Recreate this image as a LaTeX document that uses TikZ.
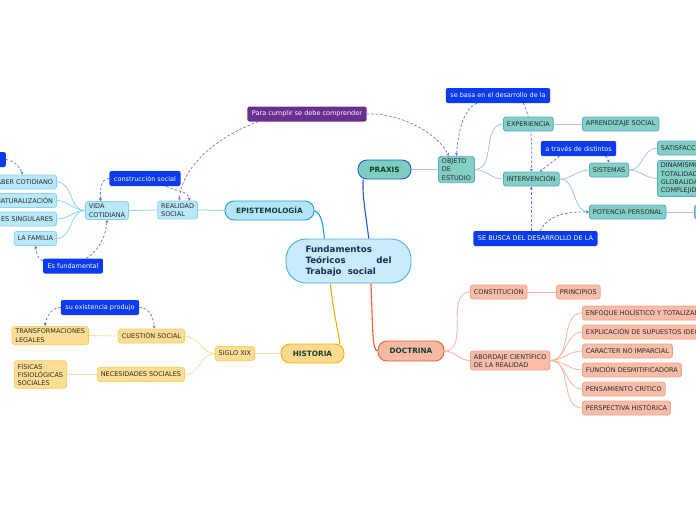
\documentclass[tikz,border=0pt]{standalone}
\usepackage{fontspec}
\setmainfont{DejaVu Sans}
\usetikzlibrary{arrows.meta,backgrounds}
\definecolor{centerfill}{HTML}{C8ECFB}\definecolor{centeredge}{HTML}{4FAEE0}
\definecolor{epifill}{HTML}{B3E5FC}\definecolor{epiedge}{HTML}{1E9FE0}
\definecolor{lbfill}{HTML}{B9E7FB}\definecolor{lbedge}{HTML}{8DD3F2}
\definecolor{praxfill}{HTML}{7ECDC1}\definecolor{praxedge}{HTML}{1F5BC9}
\definecolor{tealfill}{HTML}{82CFC4}\definecolor{tealedge}{HTML}{5FA5D9}\definecolor{tealline}{HTML}{A3C6F0}
\definecolor{histfill}{HTML}{FFD98C}\definecolor{histedge}{HTML}{F4B30C}
\definecolor{yelfill}{HTML}{FFDD93}\definecolor{yeledge}{HTML}{F9CE6C}\definecolor{yelline}{HTML}{FDDF9B}
\definecolor{docfill}{HTML}{F8B9A3}\definecolor{docedge}{HTML}{EE5C35}
\definecolor{salfill}{HTML}{F9BDA9}\definecolor{saledge}{HTML}{F6A38A}\definecolor{salline}{HTML}{F8B4A0}
\definecolor{lblblue}{HTML}{0A3BF2}\definecolor{relblue}{HTML}{4F70EE}
\definecolor{lblpurple}{HTML}{6A2D90}\definecolor{relpurple}{HTML}{9461C4}
\definecolor{maintext}{HTML}{113D2E}\definecolor{childtext}{HTML}{2A2A2A}\definecolor{centertext}{HTML}{1A2D5A}
\tikzset{
  small/.style={font=\fontsize{6.5}{8.4}\selectfont},
  child/.style={small, draw, line width=0.8pt, rounded corners=2.5pt, inner xsep=3.5pt, inner ysep=2.3pt, minimum height=14pt, align=left, text=childtext},
  bluec/.style={child, fill=lbfill, draw=lbedge},
  tealc/.style={child, fill=tealfill, draw=tealedge},
  yelc/.style={child, fill=yelfill, draw=yeledge},
  salc/.style={child, fill=salfill, draw=saledge},
  mainn/.style={font=\fontsize{7.3}{9}\selectfont\bfseries, draw, line width=0.9pt, rounded corners=9pt, minimum height=19pt, text=maintext},
  lbl/.style={small, fill=lblblue, text=white, rounded corners=2pt, inner xsep=4.5pt, minimum height=15pt},
  rel/.style={draw=relblue, line width=0.7pt, dash pattern=on 2.5pt off 2pt},
  relp/.style={draw=relpurple, line width=0.7pt, dash pattern=on 2.5pt off 2pt},
  tip/.style={-{Stealth[length=3pt,width=3pt]}},
  br/.style={line width=0.8pt}
}
\begin{document}
\begin{tikzpicture}[x=1pt,y=-1pt]
\useasboundingbox (0,0) rectangle (696,520);
\clip (0,0) rectangle (696,520);

% center and main topics
\node[draw=centeredge, fill=centerfill, line width=0.9pt, rounded corners=20pt, minimum width=125pt, minimum height=44pt, text=centertext, align=left, font=\fontsize{8.7}{11}\selectfont\bfseries] (c) at (348.5,261) {Fundamentos\\\hbox to 86pt{Teóricos\hfill del}\\Trabajo\ \ social};
\node[mainn, fill=epifill, draw=epiedge, minimum width=89pt] (epi) at (269.5,210.5) {EPISTEMOLOGÍA};
\node[mainn, fill=praxfill, draw=praxedge, minimum width=53pt] (praxis) at (384.5,169.5) {PRAXIS};
\node[mainn, fill=histfill, draw=histedge, minimum width=63pt] (historia) at (312.5,353.5) {HISTORIA};
\node[mainn, fill=docfill, draw=docedge, minimum width=66pt, minimum height=20pt] (doctrina) at (411,351) {DOCTRINA};

% epistemologia branch
\node[bluec, anchor=east] (realidad) at (198,210) {REALIDAD\\SOCIAL};
\node[bluec, anchor=east] (vida) at (129,210.5) {VIDA\\COTIDIANA};
\node[bluec, anchor=east] (saber) at (57,182) {SABER COTIDIANO};
\node[bluec, anchor=east] (natur) at (57,200.5) {NATURALIZACIÓN};
\node[bluec, anchor=east] (sing) at (57,219) {\hspace*{10pt}ES SINGULARES};
\node[bluec, anchor=east] (lafam) at (57,238.5) {LA FAMILIA};

% praxis branch
\node[tealc, anchor=west] (objeto) at (438,169.5) {OBJETO\\DE\\ESTUDIO};
\node[tealc, anchor=west] (exper) at (503,124) {EXPERIENCIA};
\node[tealc, anchor=west] (aprend) at (582,124) {APRENDIZAJE SOCIAL};
\node[tealc, anchor=west] (interv) at (503,179) {INTERVENCIÓN};
\node[tealc, anchor=west] (sist) at (589,170) {SISTEMAS};
\node[tealc, anchor=west] (poten) at (589,212) {POTENCIA PERSONAL};
\node[tealc, anchor=west] (satis) at (657,148) {SATISFACCIÓN};
\node[tealc, anchor=west] (dinam) at (657,178.5) {DINAMISMO\\TOTALIDAD\\GLOBALIDAD\\COMPLEJIDAD};
\node[tealc, anchor=west, minimum width=30pt] (pchild) at (694,212) {};

% historia branch
\node[yelc, anchor=east] (siglo) at (255,353.5) {SIGLO XIX};
\node[yelc, anchor=east] (cuest) at (185,336) {CUESTIÓN SOCIAL};
\node[yelc, anchor=east] (neces) at (185,374.5) {NECESIDADES SOCIALES};
\node[yelc, anchor=east] (transf) at (89,335.5) {TRANSFORMACIONES\\LEGALES};
\node[yelc, anchor=east] (fisicas) at (67,374.5) {FÍSICAS\\FISIOLÓGICAS\\SOCIALES};

% doctrina branch
\node[salc, anchor=west] (const) at (470,292) {CONSTITUCIÓN};
\node[salc, anchor=west] (princ) at (556,292) {PRINCIPIOS};
\node[salc, anchor=west] (abord) at (470,360.5) {ABORDAJE CIENTÍFICO\\DE LA REALIDAD};
\node[salc, anchor=west] (enf) at (582,313) {ENFOQUE HOLÍSTICO Y TOTALIZADOR};
\node[salc, anchor=west] (expl) at (582,332) {EXPLICACIÓN DE SUPUESTOS IDEOLÓGICOS};
\node[salc, anchor=west] (car) at (582,351) {CARACTER NO IMPARCIAL};
\node[salc, anchor=west] (fun) at (582,370) {FUNCIÓN DESMITIFICADORA};
\node[salc, anchor=west] (pen) at (582,389) {PENSAMIENTO CRÍTICO};
\node[salc, anchor=west] (per) at (582,408) {PERSPECTIVA HISTÓRICA};

% relation labels
\node[lbl] (lc) at (145,178.5) {construcción social};
\node[lbl] (lf) at (73,266) {Es fundamental};
\node[lbl, anchor=east, minimum width=40pt] (ltl) at (6,159.5) {};
\node[lbl] (lb) at (498,95.5) {se basa en el desarrollo de la};
\node[lbl] (lt) at (578.5,148.5) {a través de distintos};
\node[lbl] (ls) at (535.5,238.5) {SE BUSCA DEL DESARROLLO DE LA};
\node[lbl] (le) at (100,307.5) {su existencia produjo};
\node[lbl, fill=lblpurple] (lp) at (307,114) {Para cumplir se debe comprender};

\begin{pgfonlayer}{background}
\fill[white] (0,0) rectangle (696,520);
% main connectors
\draw[br, draw=epiedge, line width=1.1pt] (c.137) .. controls (323,225) and (322,214) .. (epi.east);
\draw[br, draw=praxedge, line width=1.1pt] (c.48) .. controls (366,215) and (362,195) .. (praxis.205);
\draw[br, draw=histedge, line width=1.1pt] (c.231.5) .. controls (333,310) and (338,330) .. (historia.20);
\draw[br, draw=docedge, line width=1.1pt] (c.315.6) .. controls (373,330) and (372,350) .. (doctrina.west);
% epistemologia
\draw[br, draw=lbedge] (epi.west) -- (realidad.east);
\draw[br, draw=lbedge] (realidad.west) -- (vida.east);
\foreach \n in {saber,natur,sing,lafam}
  \draw[br, draw=lbedge] (vida.west) to[out=180,in=0] (\n.east);
% praxis
\draw[br, draw=tealline] (praxis.east) -- (objeto.west);
\foreach \n in {exper,interv}
  \draw[br, draw=tealline] (objeto.east) to[out=0,in=180] (\n.west);
\draw[br, draw=tealline] (exper.east) -- (aprend.west);
\foreach \n in {sist,poten}
  \draw[br, draw=tealline] (interv.east) to[out=0,in=180] (\n.west);
\foreach \n in {satis,dinam}
  \draw[br, draw=tealline] (sist.east) to[out=0,in=180] (\n.west);
\draw[br, draw=tealline] (poten.east) -- (pchild.west);
% historia
\draw[br, draw=yelline] (historia.west) -- (siglo.east);
\foreach \n in {cuest,neces}
  \draw[br, draw=yelline] (siglo.west) to[out=180,in=0] (\n.east);
\draw[br, draw=yelline] (cuest.west) -- (transf.east);
\draw[br, draw=yelline] (neces.west) -- (fisicas.east);
% doctrina
\foreach \n in {const,abord}
  \draw[br, draw=salline] (doctrina.east) to[out=0,in=180] (\n.west);
\draw[br, draw=salline] (const.east) -- (princ.west);
\foreach \n in {enf,expl,car,fun,pen,per}
  \draw[br, draw=salline] (abord.east) to[out=0,in=180] (\n.west);
% relations
\draw[rel, tip] (lc.west) to[out=180,in=90] (vida.125);
\draw[rel, tip] (lc.-20) to[out=-30,in=100] (realidad.38);
\draw[rel, tip] (lf.170) to[out=160,in=-80] (lafam.south);
\draw[rel, tip] (lf.30) .. controls (100,250) and (106,235) .. (vida.south);
\draw[rel, tip] (ltl.east) to[out=-10,in=110] (saber.north);
\draw[rel, tip] (le.west) to[out=180,in=80] (transf.120);
\draw[rel, tip] (le.east) to[out=0,in=90] (cuest.70);
\draw[rel, tip] (lb.200) .. controls (462,110) and (458,135) .. (objeto.north);
\draw[rel, tip] (lb.-17) .. controls (530,115) and (533,140) .. (interv.north);
\draw[rel, tip] (lt.202) .. controls (552,162) .. (interv.41);
\draw[rel, tip] (lt.-16) .. controls (607,157) .. (sist.north);
\draw[rel, tip] (interv.south |- ls.north) -- (interv.south);
\draw[rel, tip] (ls.60) to[out=60,in=180] (poten.west);
\draw[relp, tip] (lp.east) .. controls (400,112) and (440,135) .. (objeto.120);
\draw[relp, tip] (lp.189.5) .. controls (220,135) and (182,165) .. (realidad.80);
\end{pgfonlayer}
\end{tikzpicture}
\end{document}
